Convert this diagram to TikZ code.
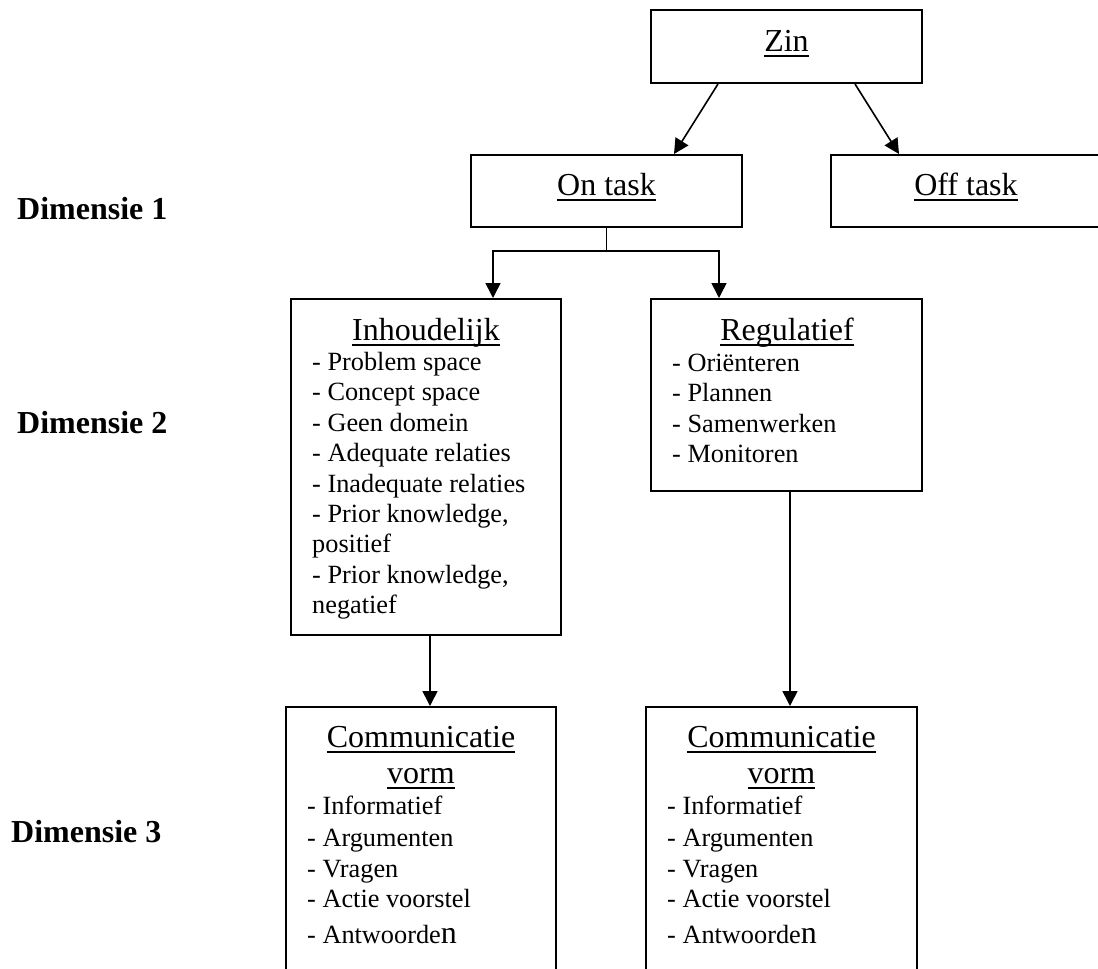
\documentclass[tikz,border=0pt]{standalone}
\usepackage{fontspec}
\setmainfont{Liberation Serif}
\usetikzlibrary{arrows.meta}
\newsavebox\ulxbox
\newcommand\ulx[1]{\sbox\ulxbox{#1}\rlap{\rule[-5.8pt]{\wd\ulxbox}{1.6pt}}\usebox\ulxbox}
\tikzset{
  box/.style={draw, line width=2pt, rectangle, inner sep=0pt},
  title/.style={font=\fontsize{32}{36}\selectfont, anchor=base, inner sep=0pt},
  item/.style={font=\fontsize{26.3}{30}\selectfont, anchor=base west, inner sep=0pt},
  dim/.style={font=\fontsize{32}{36}\selectfont\bfseries, anchor=base west, inner sep=0pt},
  conn/.style={line width=1.6pt},
  arr/.style={conn, -{Triangle[width=15pt,length=15pt]}}
}
\begin{document}
\begin{tikzpicture}[x=1pt,y=-1pt]
\useasboundingbox (0,0) rectangle (1098,969);
% boxes
\node[box, minimum width=271pt, minimum height=73pt] (zin) at (786.5,46.5) {};
\node[box, minimum width=271pt, minimum height=72pt] (ontask) at (606.5,191) {};
\node[box, minimum width=270pt, minimum height=72pt] (offtask) at (966,191) {};
\node[box, minimum width=270pt, minimum height=336pt] (inh) at (426,467) {};
\node[box, minimum width=271pt, minimum height=192pt] (reg) at (786.5,395) {};
\node[box, minimum width=270pt, minimum height=300pt] (com1) at (421,857) {};
\node[box, minimum width=271pt, minimum height=300pt] (com2) at (781.5,857) {};
% titles
\node[title] (zint) at (786.5,51) {\ulx{Zin}};
\node[title] (ontaskt) at (606.5,195) {\ulx{On task}};
\node[title] (offtaskt) at (966,195) {\ulx{Off task}};
\node[title] (inht) at (426,340) {\ulx{Inhoudelijk}};
\node[title] (regt) at (787,340) {\ulx{Regulatief}};
\node[title] (com1t) at (421,747) {\ulx{Communicatie}};
\node[title] (com1v) at (421,783) {\ulx{vorm}};
\node[title] (com2t) at (781.5,747) {\ulx{Communicatie}};
\node[title] (com2v) at (781.5,783) {\ulx{vorm}};
% items
\foreach \yy/\tt [count=\i] in {370/{- Problem space},400/{- Concept space},431/{- Geen domein},461/{- Adequate relaties},492/{- Inadequate relaties},522/{- Prior knowledge,},552/{positief},583/{- Prior knowledge,},613/{negatief}}
  \node[item] (inhi\i) at (312,\yy) {\tt};
\foreach \yy/\tt [count=\i] in {371/{- Oriënteren},401/{- Plannen},432/{- Samenwerken},462/{- Monitoren}}
  \node[item] (regi\i) at (672,\yy) {\tt};
\foreach \xx/\nm in {307/a,667/b}{
  \node[item] (ci1\nm) at (\xx,814) {- Informatief};
  \node[item] (ci2\nm) at (\xx,846) {- Argumenten};
  \node[item] (ci3\nm) at (\xx,877) {- Vragen};
  \node[item] (ci4\nm) at (\xx,907) {- Actie voorstel};
  \node[item] (ci5\nm) at (\xx,943) {- Antwoorde{\fontsize{32}{36}\selectfont n}};
}
% dimension labels
\node[dim] (d1) at (17,219) {Dimensie 1};
\node[dim] (d2) at (17,433) {Dimensie 2};
\node[dim] (d3) at (11,842) {Dimensie 3};
% connectors
\draw[arr] ([xshift=-68.5pt]zin.south) -- ([xshift=67.5pt]ontask.north);
\draw[arr] ([xshift=68.5pt]zin.south) -- ([xshift=-67pt]offtask.north);
\coordinate (split) at (606.5,251);
\draw[conn] (ontask.south) -- (split);
\draw[arr] (split) -| ([xshift=67pt]inh.north);
\draw[arr] (split) -| ([xshift=-67.5pt]reg.north);
\draw[arr] ([xshift=4pt]inh.south) -- ([xshift=4pt]inh.south |- com1.north);
\draw[arr] ([xshift=3.5pt]reg.south) -- ([xshift=3.5pt]reg.south |- com2.north);
\end{tikzpicture}
\end{document}
